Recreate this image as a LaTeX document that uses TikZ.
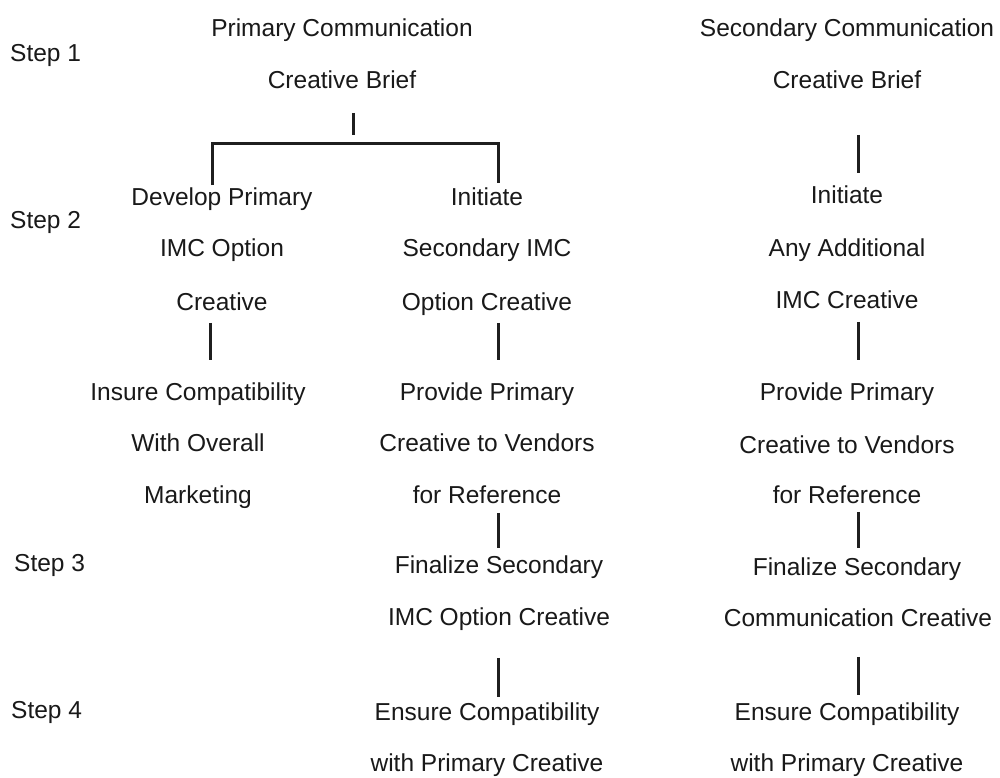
\documentclass[tikz,border=0pt]{standalone}
\usepackage{fontspec}
\setmainfont{Liberation Sans}
\usepackage{tikz}
\usetikzlibrary{positioning}

\tikzset{
  txt/.style={font=\fontsize{24.5}{28}\selectfont, text=black!90, inner sep=0pt,
              text height=17.5pt, text depth=0pt},
  steplabel/.style={txt, anchor=west},
  link/.style 2 args={draw=black!88, line width=3pt, shorten <=#1pt, shorten >=#2pt}
}

\begin{document}
\begin{tikzpicture}[x=1pt,y=-1pt]
        \useasboundingbox[fill=white] (0,0) rectangle (1000,777);
        % step labels
        \node[steplabel] (stepA) at (10,53) {Step 1};
        \node[steplabel] (stepB) at (10,220) {Step 2};
        \node[steplabel] (stepC) at (14,563) {Step 3};
        \node[steplabel] (stepD) at (11,710) {Step 4};
        % primary communication
        \node[txt] (priA) at (342,28) {Primary Communication};
        \node[txt] (cbA) at (342,80) {Creative Brief};
        \node[txt] (devA) at (222,197) {Develop Primary};
        \node[txt] (devB) at (222,248) {IMC Option};
        \node[txt] (devC) at (222,302) {Creative};
        \node[txt] (insA) at (198,392) {Insure Compatibility};
        \node[txt] (insB) at (198,443) {With Overall};
        \node[txt] (insC) at (198,495) {Marketing};
        \node[txt] (iniA) at (487,197) {Initiate};
        \node[txt] (iniB) at (487,248) {Secondary IMC};
        \node[txt] (iniC) at (487,302) {Option Creative};
        \node[txt] (proA) at (487,392) {Provide Primary};
        \node[txt] (proB) at (487,443) {Creative to Vendors};
        \node[txt] (proC) at (487,495) {for Reference};
        \node[txt] (finA) at (499,565) {Finalize Secondary};
        \node[txt] (finB) at (499,617) {IMC Option Creative};
        \node[txt] (ensA) at (487,712) {Ensure Compatibility};
        \node[txt] (ensB) at (487,763) {with Primary Creative};
        % secondary communication
        \node[txt] (secA) at (847,28) {Secondary Communication};
        \node[txt] (secB) at (847,80) {Creative Brief};
        \node[txt] (addA) at (847,195) {Initiate};
        \node[txt] (addB) at (847,248) {Any Additional};
        \node[txt] (addC) at (847,300) {IMC Creative};
        \node[txt] (prvA) at (847,392) {Provide Primary};
        \node[txt] (prvB) at (847,445) {Creative to Vendors};
        \node[txt] (prvC) at (847,495) {for Reference};
        \node[txt] (fnlA) at (857,567) {Finalize Secondary};
        \node[txt] (fnlB) at (858,618) {Communication Creative};
        \node[txt] (ensC) at (847,712) {Ensure Compatibility};
        \node[txt] (ensD) at (847,763) {with Primary Creative};
        % columns of the connectors
        \coordinate (colT) at (353,0);
        \coordinate (colA) at (210,0);
        \coordinate (colB) at (498,0);
        \coordinate (colC) at (858,0);
        \coordinate (barL) at (212,143);
        \coordinate (barR) at (498,143);
        % bracket
        \draw[link={24}{8}] (cbA.south -| colT) -- (barL -| colT);
        \draw[link={3}{5}] (devA.north -| barL) -- (barL) -- (barR) -- (iniA.north -| barR);
        \draw[link={12}{23}] (devC.south -| colA) -- (insA.north -| colA);
        \draw[link={12}{23}] (iniC.south -| colB) -- (proA.north -| colB);
        \draw[link={9}{8}] (proC.south -| colB) -- (finA.north -| colB);
        \draw[link={32}{6}] (finB.south -| colB) -- (ensA.north -| colB);
        \draw[link={46}{13}] (secB.south -| colC) -- (addA.north -| colC);
        \draw[link={13}{23}] (addC.south -| colC) -- (prvA.north -| colC);
        \draw[link={8}{10}] (prvC.south -| colC) -- (fnlA.north -| colC);
        \draw[link={30}{8}] (fnlB.south -| colC) -- (ensC.north -| colC);
\end{tikzpicture}
\end{document}
